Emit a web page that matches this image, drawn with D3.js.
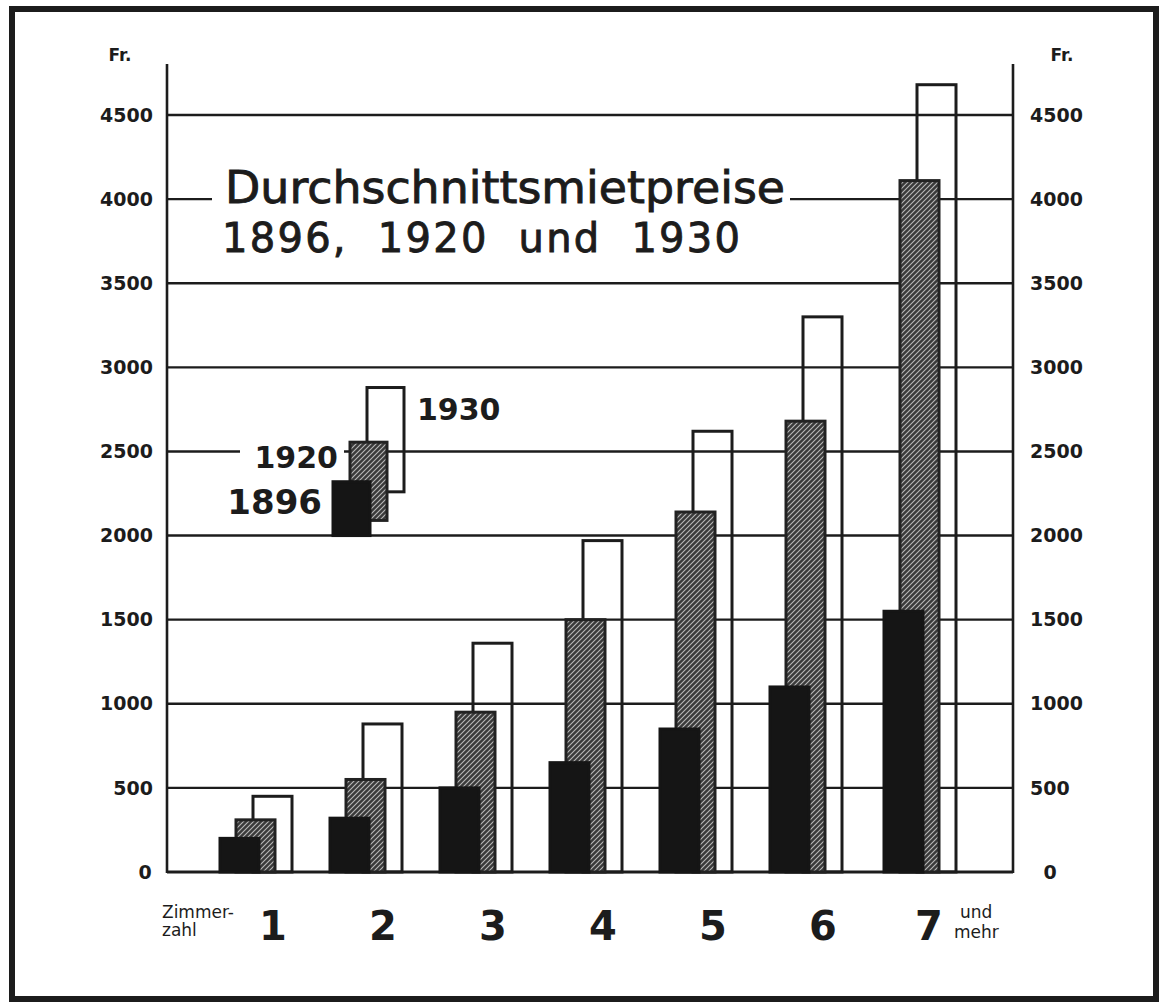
<!DOCTYPE html>
<html>
<head>
<meta charset="utf-8">
<script src="https://cdn.jsdelivr.net/npm/d3@7"></script>
<style>
    body { margin: 0; background: #fff; }
    svg { display: block; }
</style>
</head>
<body>
<svg id="chart" width="1160" height="1005"></svg>
<script>
// Durchschnittsmietpreise (Fr.) nach Zimmerzahl
const rooms = ["1", "2", "3", "4", "5", "6", "7"];
const years = ["1896", "1920", "1930"];
const rent1896 = [200, 320, 500, 650, 850, 1100, 1550];
const rent1920 = [310, 550, 950, 1500, 2140, 2680, 4110];
const rent1930 = [450, 880, 1360, 1970, 2620, 3300, 4680];
const yTicks = [0, 500, 1000, 1500, 2000, 2500, 3000, 3500, 4000, 4500];
const tickLabels = ["0", "500", "1000", "1500", "2000", "2500", "3000", "3500", "4000", "4500"];
// small key drawn over group 2 (bottom / top values in Fr.)
const keyBottom = [2000, 2090, 2260];
const keyTop = [2320, 2555, 2880];

const svg = d3.select("#chart");
const font = "'DejaVu Sans', 'Open Sans', sans-serif";
const ink = "#1c1c1c";

const x = d3.scaleBand().domain(rooms).range([200, 970]);
const y = d3.scaleLinear().domain([0, 4500]).range([872, 115]);
const xLeft = 167;
const xRight = 1013;

// hatching for 1920
const defs = svg.append("defs");
defs.append("pattern")
    .attr("id", "hatch")
    .attr("patternUnits", "userSpaceOnUse")
    .attr("width", 5)
    .attr("height", 5)
    .call((p) => {
        p.append("rect").attr("width", 5).attr("height", 5).attr("fill", "#3a3a3a");
        p.append("path")
            .attr("d", "M-1,1 l2,-2 M0,5 l5,-5 M4,6 l2,-2")
            .attr("stroke", "#b8b8b8")
            .attr("stroke-width", 1.1);
    });

// frame
svg.append("rect")
    .attr("x", 12).attr("y", 9)
    .attr("width", 1144).attr("height", 990)
    .attr("fill", "none")
    .attr("stroke", ink)
    .attr("stroke-width", 6);

// grid lines
svg.append("g")
    .selectAll("line")
    .data(yTicks)
    .join("line")
    .attr("x1", xLeft)
    .attr("x2", xRight)
    .attr("y1", (d) => y(d))
    .attr("y2", (d) => y(d))
    .attr("stroke", ink)
    .attr("stroke-width", (d) => (d === 0 ? 3 : 2.4));

// axis lines left + right
svg.append("g")
    .selectAll("line")
    .data([xLeft, xRight])
    .join("line")
    .attr("x1", (d) => d)
    .attr("x2", (d) => d)
    .attr("y1", 64)
    .attr("y2", y(0) + 1)
    .attr("stroke", ink)
    .attr("stroke-width", 2.6);

// tick labels both sides
const tickG = svg.append("g")
    .attr("font-family", font)
    .attr("font-weight", "bold")
    .attr("font-size", 19)
    .attr("fill", ink);

tickG.selectAll(".tl")
    .data(yTicks)
    .join("text")
    .attr("x", (d) => (d === 0 ? 145 : 153))
    .attr("y", (d) => y(d))
    .attr("dy", "0.35em")
    .attr("text-anchor", (d) => (d === 0 ? "middle" : "end"))
    .text((d, i) => tickLabels[i]);

tickG.selectAll(".tr")
    .data(yTicks)
    .join("text")
    .attr("x", (d) => (d === 0 ? 1050 : 1030))
    .attr("y", (d) => y(d))
    .attr("dy", "0.35em")
    .attr("text-anchor", (d) => (d === 0 ? "middle" : "start"))
    .text((d, i) => tickLabels[i]);

tickG.selectAll(".fr")
    .data([120, 1062])
    .join("text")
    .attr("x", (d) => d)
    .attr("y", 61)
    .attr("text-anchor", "middle")
    .attr("font-size", 17)
    .text("Fr.");

// title, with paper behind it
const titleG = svg.append("g")
    .attr("font-family", font)
    .attr("fill", ink)
    .attr("stroke", ink)
    .attr("stroke-width", 0.9);
titleG.append("rect")
    .attr("x", 212).attr("y", 160)
    .attr("width", 578).attr("height", 100)
    .attr("fill", "#fff")
    .attr("stroke", "none");
titleG.append("text")
    .attr("x", 225).attr("y", 203)
    .attr("font-size", 44)
    .attr("textLength", 560)
    .attr("lengthAdjust", "spacingAndGlyphs")
    .text("Durchschnittsmietpreise");
titleG.append("text")
    .attr("x", 222).attr("y", 252)
    .attr("font-size", 40)
    .attr("textLength", 518)
    .attr("xml:space", "preserve")
    .text("1896,  1920  und  1930");

// bars: 1930 outline first, then 1920 hatched, then 1896 solid
const barW = 39;
const offsets = [20, 36, 53];
const series = [rent1896, rent1920, rent1930];
const styles = [
    { fill: "#151515", stroke: "#151515" },
    { fill: "url(#hatch)", stroke: "#222" },
    { fill: "none", stroke: ink }
];

const barsG = svg.append("g");
[2, 1, 0].forEach((s) => {
    barsG.append("g")
        .selectAll("rect")
        .data(rooms)
        .join("rect")
        .attr("x", (d) => x(d) + offsets[s] + (d === "7" ? 4 : 0))
        .attr("y", (d, i) => y(series[s][i]))
        .attr("width", barW)
        .attr("height", (d, i) => y(0) - y(series[s][i]))
        .attr("fill", styles[s].fill)
        .attr("stroke", styles[s].stroke)
        .attr("stroke-width", 3);
});

// key
const keyG = svg.append("g");
const keyX = x("2") + offsets[0] + 3;
keyG.append("rect")
    .attr("x", 240).attr("y", y(2500) - 14)
    .attr("width", 104).attr("height", 28)
    .attr("fill", "#fff");
[2, 1, 0].forEach((s) => {
    keyG.append("rect")
        .attr("x", keyX + s * 17)
        .attr("y", y(keyTop[s]))
        .attr("width", 37)
        .attr("height", y(keyBottom[s]) - y(keyTop[s]))
        .attr("fill", styles[s].fill)
        .attr("stroke", styles[s].stroke)
        .attr("stroke-width", 3);
});
const keyLabels = [
    { t: years[0], x: 322, y: 514, anchor: "end", size: 34 },
    { t: years[1], x: 338, y: 468, anchor: "end", size: 30 },
    { t: years[2], x: 417, y: 420, anchor: "start", size: 30 }
];
keyG.selectAll("text")
    .data(keyLabels)
    .join("text")
    .attr("x", (d) => d.x)
    .attr("y", (d) => d.y)
    .attr("text-anchor", (d) => d.anchor)
    .attr("font-family", font)
    .attr("font-weight", "bold")
    .attr("font-size", (d) => d.size)
    .attr("fill", ink)
    .text((d) => d.t);

// category labels
const catG = svg.append("g")
    .attr("font-family", font)
    .attr("font-weight", "bold")
    .attr("fill", ink);
catG.selectAll(".cat")
    .data(rooms)
    .join("text")
    .attr("x", (d) => x(d) + 73 + (d === "7" ? -4 : 0))
    .attr("y", 940)
    .attr("text-anchor", "middle")
    .attr("font-size", 40)
    .text((d) => d);

catG.append("text")
    .attr("x", 162).attr("y", 918)
    .attr("font-size", 17)
    .attr("font-weight", "normal")
    .text("Zimmer-");
catG.append("text")
    .attr("x", 162).attr("y", 936)
    .attr("font-size", 17)
    .attr("font-weight", "normal")
    .text("zahl");
catG.append("text")
    .attr("x", 960).attr("y", 918)
    .attr("font-size", 17)
    .attr("font-weight", "normal")
    .text("und");
catG.append("text")
    .attr("x", 954).attr("y", 938)
    .attr("font-size", 17)
    .attr("font-weight", "normal")
    .text("mehr");
</script>
</body>
</html>
